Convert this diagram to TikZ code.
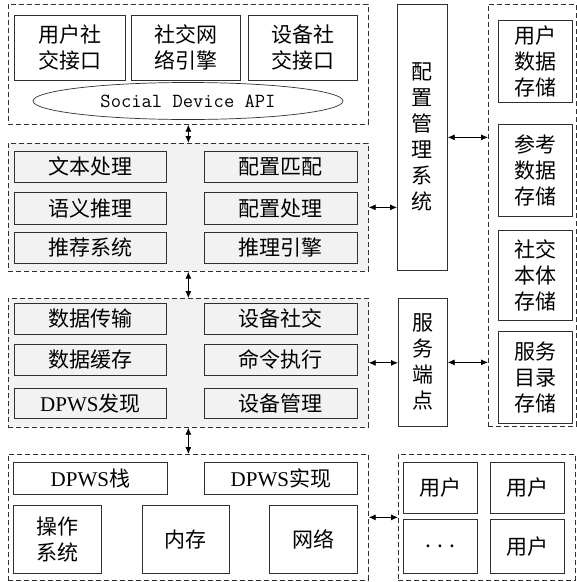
\documentclass[tikz,border=0pt]{standalone}
\usepackage{fontspec}
\setmainfont{Liberation Serif}
\newfontfamily\cjk{Noto Sans CJK SC}
\newfontfamily\apimono{Latin Modern Mono}
\usetikzlibrary{arrows.meta,shapes.geometric}
\definecolor{panelgray}{HTML}{F2F2F2}
\definecolor{edgegray}{HTML}{303030}
\tikzset{
  container/.style={draw=edgegray, line width=0.7pt, dash pattern=on 5pt off 3pt, inner sep=0pt, anchor=north west},
  box/.style={draw=edgegray, line width=0.7pt, inner sep=0pt, anchor=north west, align=center,
    font=\fontsize{21}{26}\selectfont\cjk},
  graybox/.style={box, fill=panelgray},
  dblarrow/.style={line width=0.8pt, {Latex[length=7pt,width=6pt]}-{Latex[length=7pt,width=6pt]}},
}
% helper: box from corners
\newcommand{\mybox}[6]{% style, name, x1, y1, x2, y2 ; text follows
  \node[#1, minimum width={(#5-#3)*1pt}, minimum height={(#6-#4)*1pt}] (#2) at (#3,#4)}
\begin{document}
\begin{tikzpicture}[x=1pt,y=-1pt]
\useasboundingbox (0,0) rectangle (577,582);
% containers
\node[container, fill=white, minimum width=360pt, minimum height=120pt] (c1) at (8,4) {};
\node[container, fill=panelgray, minimum width=360pt, minimum height=128pt] (c2) at (8,143) {};
\node[container, fill=panelgray, minimum width=360pt, minimum height=129pt] (c3) at (8,298) {};
\node[container, fill=white, minimum width=360pt, minimum height=126pt] (c4) at (8,454) {};
\node[container, fill=white, minimum width=88pt, minimum height=422pt] (store) at (488,4) {};
\node[container, fill=white, minimum width=177pt, minimum height=126pt] (users) at (398,454) {};

% top container
\mybox{box}{a1}{14}{15}{125}{80} {用户社\\交接口};
\mybox{box}{a2}{131}{15}{240}{80} {社交网\\络引擎};
\mybox{box}{a3}{248}{15}{357}{80} {设备社\\交接口};
\node[draw=edgegray, line width=0.7pt, ellipse, minimum width=310pt, minimum height=37pt, inner sep=0pt,
  font=\fontsize{20}{22}\selectfont\apimono] (api) at (188,101) {Social Device API};

% container 2
\mybox{graybox}{b1}{14}{151}{166}{182} {文本处理};
\mybox{graybox}{b2}{204}{151}{357}{182} {配置匹配};
\mybox{graybox}{b3}{14}{192}{166}{224} {语义推理};
\mybox{graybox}{b4}{204}{192}{357}{224} {配置处理};
\mybox{graybox}{b5}{14}{232}{166}{263} {推荐系统};
\mybox{graybox}{b6}{204}{232}{357}{263} {推理引擎};

% container 3
\mybox{graybox}{d1}{14}{303}{166}{334} {数据传输};
\mybox{graybox}{d2}{204}{303}{357}{334} {设备社交};
\mybox{graybox}{d3}{14}{344}{166}{375} {数据缓存};
\mybox{graybox}{d4}{204}{344}{357}{375} {命令执行};
\mybox{graybox}{d5}{14}{388}{166}{418} {\rmfamily DPWS{\cjk 发现}};
\mybox{graybox}{d6}{204}{388}{357}{418} {设备管理};

% container 4
\mybox{box}{e1}{13}{462}{167}{494} {\rmfamily DPWS{\cjk 栈}};
\mybox{box}{e2}{204}{462}{357}{494} {\rmfamily DPWS{\cjk 实现}};
\mybox{box}{e3}{13}{505}{101}{573} {操作\\系统};
\mybox{box}{e4}{142}{505}{229}{573} {内存};
\mybox{box}{e5}{269}{505}{357}{573} {网络};

% config & service
\mybox{box}{cfg}{397}{4}{447}{270} {配\\置\\管\\理\\系\\统};
\mybox{box}{srv}{398}{298}{447}{426} {服\\务\\端\\点};

% storage
\mybox{box}{s1}{498}{20}{572}{102} {用户\\数据\\存储};
\mybox{box}{s2}{498}{124}{572}{216} {参考\\数据\\存储};
\mybox{box}{s3}{498}{230}{572}{320} {社交\\本体\\存储};
\mybox{box}{s4}{498}{331}{572}{423} {服务\\目录\\存储};

% users
\mybox{box}{u1}{403}{462}{477}{513} {用户};
\mybox{box}{u2}{490}{462}{564}{513} {用户};
\mybox{box}{u3}{403}{519}{477}{573} {. . .};
\mybox{box}{u4}{490}{519}{564}{573} {用户};

% connectors
\draw[dblarrow] (c1.south) -- (c2.north);
\draw[dblarrow] (c2.south) -- (c3.north);
\draw[dblarrow] (c3.south) -- (c4.north);
\draw[dblarrow] (c2.east) -- (cfg.west |- c2.east);
\draw[dblarrow] (cfg.east) -- (store.west |- cfg.east);
\draw[dblarrow] (c3.east) -- (srv.west |- c3.east);
\draw[dblarrow] (srv.east) -- (store.west |- srv.east);
\draw[dblarrow] (c4.east) -- (users.west |- c4.east);
\end{tikzpicture}
\end{document}
